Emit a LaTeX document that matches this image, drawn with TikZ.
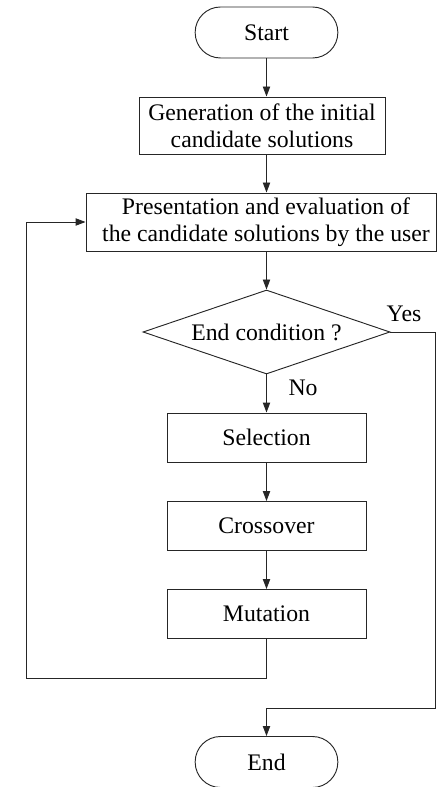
\documentclass[tikz,border=0pt]{standalone}
\usepackage{fontspec}
\setmainfont{Liberation Serif}
\usetikzlibrary{arrows.meta,shapes.geometric}
\begin{document}
\begin{tikzpicture}[x=0.75pt,y=-0.75pt,
  every node/.style={font=\fontsize{17.8pt}{20.5pt}\selectfont, inner sep=0pt},
  line/.style={line width=0.7pt, draw=black!85},
  arr/.style={line, -{Triangle[length=7.5pt,width=5.5pt]}},
  term/.style={draw=black!85, line width=0.7pt, rectangle, rounded corners=19pt, minimum width=107pt, minimum height=38.25pt},
  box/.style={draw=black!85, line width=0.7pt, rectangle, align=center},
  dec/.style={draw=black!85, line width=0.7pt, diamond, aspect=3, minimum width=185.25pt, minimum height=63pt, inner sep=0pt}]
\useasboundingbox (0,0) rectangle (437,787);
\node[term] (start) at (266.5,32.5) {Start};
\node[box, minimum width=184.5pt, minimum height=42.75pt] (gen) at (262,125.5) {Generation of the initial\\candidate solutions};
\node[box, minimum width=262.5pt, minimum height=43.5pt] (pres) at (261,222) {};
\node at (266,222) [align=center] {Presentation and evaluation of\\the candidate solutions by the user};
\node[dec] (cond) at (266.5,332) {End condition ?};
\node[box, minimum width=149.25pt, minimum height=36.75pt] (sel) at (266.5,437.5) {Selection};
\node[box, minimum width=149.25pt, minimum height=36.75pt] (cro) at (266.5,526) {Crossover};
\node[box, minimum width=149.25pt, minimum height=36.75pt] (mut) at (266.5,614) {Mutation};
\node[term] (end) at (266.5,762) {End};
\node at (404,314) {Yes};
\node at (303,388) {No};
\coordinate (l1) at (266.5,678);
\coordinate (l2) at (26,678);
\coordinate (l3) at (26,222);
\coordinate (r1) at (435.5,332);
\coordinate (r2) at (435.5,708);
\coordinate (r3) at (266.5,708);
\draw[arr] (start) -- (start |- gen.north);
\draw[arr] (gen.south -| start) -- (start |- pres.north);
\draw[arr] (pres.south -| start) -- (cond.north);
\draw[arr] (cond.south) -- (sel.north);
\draw[arr] (sel) -- (cro);
\draw[arr] (cro) -- (mut);
\draw[arr] (mut.south) -- (l1) -- (l2) -- (l3) -- (pres.west);
\draw[arr] (cond.east) -- (r1) -- (r2) -- (r3) -- (end.north);
\end{tikzpicture}
\end{document}
